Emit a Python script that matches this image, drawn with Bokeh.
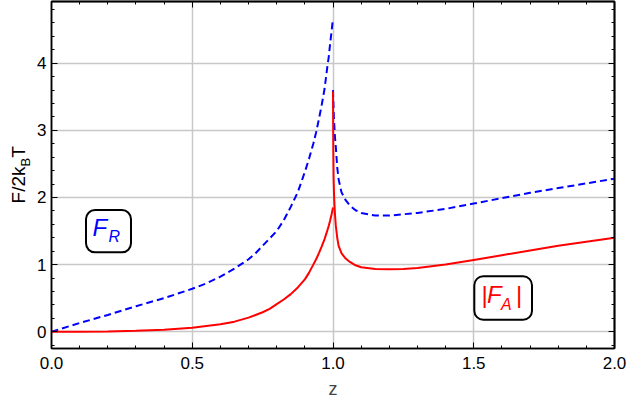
from bokeh.plotting import figure
from bokeh.layouts import row
from bokeh.models import (Range1d, LinearAxis, SingleIntervalTicker, FixedTicker,
                          PrintfTickFormatter, BoxAnnotation, Label)
from bokeh.embed import file_html
from bokeh.resources import INLINE

# ---- data ----
z_fr_left = [0.0, 0.1, 0.2, 0.3, 0.4, 0.5, 0.55, 0.6, 0.65, 0.7, 0.725, 0.75, 0.775, 0.8,
             0.825, 0.85, 0.875, 0.9, 0.915, 0.93, 0.94, 0.95, 0.96, 0.97, 0.98, 0.985,
             0.99, 0.995, 1.0]
f_fr_left = [0.0, 0.13, 0.25, 0.38, 0.50, 0.64, 0.72, 0.82, 0.94, 1.08, 1.17, 1.28, 1.39, 1.50,
             1.66, 1.86, 2.08, 2.38, 2.58, 2.80, 2.97, 3.17, 3.38, 3.62, 3.95, 4.10,
             4.30, 4.48, 4.67]

z_fr_right = [1.0, 1.003, 1.007, 1.01, 1.015, 1.02, 1.03, 1.045, 1.06, 1.08, 1.1, 1.15, 1.2,
              1.25, 1.3, 1.4, 1.5, 1.6, 1.7, 1.8, 1.9, 2.0]
f_fr_right = [3.60, 3.20, 2.90, 2.75, 2.45, 2.27, 2.08, 1.96, 1.88, 1.81, 1.77, 1.73, 1.73,
              1.75, 1.77, 1.83, 1.91, 1.99, 2.07, 2.14, 2.21, 2.28]

z_fa_left = [0.0, 0.1, 0.2, 0.3, 0.4, 0.5, 0.55, 0.6, 0.65, 0.675, 0.7, 0.725, 0.75, 0.775,
             0.8, 0.825, 0.85, 0.875, 0.9, 0.915, 0.93, 0.94, 0.95, 0.96, 0.97, 0.98, 0.985,
             0.99, 0.995, 1.0]
f_fa_left = [0.0, 0.0, 0.005, 0.015, 0.03, 0.06, 0.085, 0.11, 0.15, 0.18, 0.21, 0.25, 0.29, 0.34,
             0.41, 0.48, 0.56, 0.66, 0.78, 0.88, 1.00, 1.08, 1.17, 1.27, 1.38, 1.51, 1.58,
             1.66, 1.75, 1.85]

z_fa_right = [1.0, 1.001, 1.002, 1.004, 1.007, 1.01, 1.015, 1.02, 1.03, 1.045, 1.06, 1.08, 1.1,
              1.15, 1.2, 1.25, 1.3, 1.4, 1.5, 1.6, 1.7, 1.8, 1.9, 2.0]
f_fa_right = [3.58, 2.70, 2.30, 2.00, 1.75, 1.58, 1.40, 1.28, 1.17, 1.09, 1.04, 0.99, 0.96,
              0.935, 0.93, 0.935, 0.95, 1.00, 1.07, 1.14, 1.21, 1.28, 1.34, 1.40]

x_major = [0.0, 0.5, 1.0, 1.5, 2.0]
x_minor = [0.1, 0.2, 0.3, 0.4, 0.6, 0.7, 0.8, 0.9, 1.1, 1.2, 1.3, 1.4, 1.6, 1.7, 1.8, 1.9]
y_major = [0, 1, 2, 3, 4]
y_minor = [-0.2, 0.2, 0.4, 0.6, 0.8, 1.2, 1.4, 1.6, 1.8, 2.2, 2.4, 2.6, 2.8,
           3.2, 3.4, 3.6, 3.8, 4.2, 4.4, 4.6, 4.8]

FONT = "Liberation Sans"

p = figure(width=593, height=404, output_backend="svg", toolbar_location=None,
           x_range=Range1d(0, 2), y_range=Range1d(-0.25, 4.92),
           min_border_left=16, min_border_right=13, min_border_top=1, min_border_bottom=56)
p.outline_line_color = "black"
p.outline_line_width = 1.5

xt = SingleIntervalTicker(interval=0.5, num_minor_ticks=5)
yt = SingleIntervalTicker(interval=1, num_minor_ticks=5)


def style(ax):
    ax.axis_line_color = "black"
    ax.axis_line_width = 1.5
    ax.major_tick_in = 6
    ax.major_tick_out = 0
    ax.minor_tick_in = 3
    ax.minor_tick_out = 0
    ax.major_tick_line_color = "black"
    ax.minor_tick_line_color = "black"
    ax.major_label_text_font = FONT
    ax.major_label_text_font_size = "17px"
    ax.major_label_text_color = "black"


xa = p.xaxis[0]
xa.ticker = xt
xa.formatter = PrintfTickFormatter(format="%.1f")
style(xa)
xa.major_label_standoff = 8
xa.axis_label = "z"
xa.axis_label_text_font = FONT
xa.axis_label_text_font_size = "18px"
xa.axis_label_text_font_style = "normal"
xa.axis_label_standoff = 7

ya = p.yaxis[0]
ya.ticker = yt
ya.formatter = PrintfTickFormatter(format="%d")
style(ya)
ya.major_label_standoff = 5

# unlabeled tick axes on top and right (ticks given as minor ticks -> no label texts)
for place, ticks, length in (("above", x_major, 6), ("above", x_minor, 3),
                             ("right", y_major, 6), ("right", y_minor, 3)):
    ax = LinearAxis(ticker=FixedTicker(ticks=[], minor_ticks=ticks))
    ax.axis_line_color = "black"
    ax.axis_line_width = 1.5
    ax.minor_tick_in = length
    ax.minor_tick_out = 0
    ax.major_tick_in = 0
    ax.major_tick_out = 0
    ax.minor_tick_line_color = "black"
    ax.major_label_standoff = 0
    p.add_layout(ax, place)

p.xgrid.ticker = xt
p.ygrid.ticker = yt
for g in (p.xgrid[0], p.ygrid[0]):
    g.grid_line_color = "#c8c8c8"
    g.grid_line_width = 1.5

p.line(z_fr_left, f_fr_left, line_color="#0000ff", line_width=2, line_dash="7 4")
p.line(z_fr_right, f_fr_right, line_color="#0000ff", line_width=2, line_dash="7 4")
p.line(z_fa_left, f_fa_left, line_color="#ff0000", line_width=2)
p.line(z_fa_right, f_fa_right, line_color="#ff0000", line_width=2)

# boxed labels
p.add_layout(BoxAnnotation(left=0.1226, right=0.2824, bottom=1.183, top=1.813,
                           fill_color="white", fill_alpha=1, line_color="black",
                           line_alpha=1, line_width=2, border_radius=9))
p.add_layout(Label(x=0.1456, y=1.357, text="F", text_font=FONT, text_font_size="24px",
                   text_font_style="italic", text_color="#0000ff"))
p.add_layout(Label(x=0.2025, y=1.297, text="R", text_font=FONT, text_font_size="16px",
                   text_font_style="italic", text_color="#0000ff"))

p.add_layout(BoxAnnotation(left=1.502, right=1.707, bottom=0.178, top=0.826,
                           fill_color="white", fill_alpha=1, line_color="black",
                           line_alpha=1, line_width=2, border_radius=9))
p.add_layout(Label(x=1.5275, y=0.357, text="|", text_font=FONT, text_font_size="24px",
                   text_color="#ff0000"))
p.add_layout(Label(x=1.547, y=0.357, text="F", text_font=FONT, text_font_size="24px",
                   text_font_style="italic", text_color="#ff0000"))
p.add_layout(Label(x=1.597, y=0.272, text="A", text_font=FONT, text_font_size="16px",
                   text_font_style="italic", text_color="#ff0000"))
p.add_layout(Label(x=1.650, y=0.357, text="|", text_font=FONT, text_font_size="24px",
                   text_color="#ff0000"))

# narrow figure on the left (frame aligned with the main one, same y range)
# carrying the rotated y-axis label F/2k_B T
q = figure(width=34, height=404, output_backend="svg", toolbar_location=None,
           x_range=Range1d(0, 34), y_range=p.y_range,
           min_border=0, x_axis_type=None, y_axis_type=None)
q.outline_line_color = None
q.xgrid.visible = False
q.ygrid.visible = False
rot = 1.5707963
q.add_layout(Label(x=28, y=2.462, text="F/2k", angle=rot, text_align="right",
                   text_font=FONT, text_font_size="19px", text_color="black"))
q.add_layout(Label(x=32, y=2.462, text="B", angle=rot, text_align="left",
                   text_font=FONT, text_font_size="13px", text_color="black"))
q.add_layout(Label(x=28, y=2.591, text="T", angle=rot, text_align="left",
                   text_font=FONT, text_font_size="19px", text_color="black"))

layout = row(q, p, spacing=0)
open("out.html", "w").write(file_html(layout, INLINE))
